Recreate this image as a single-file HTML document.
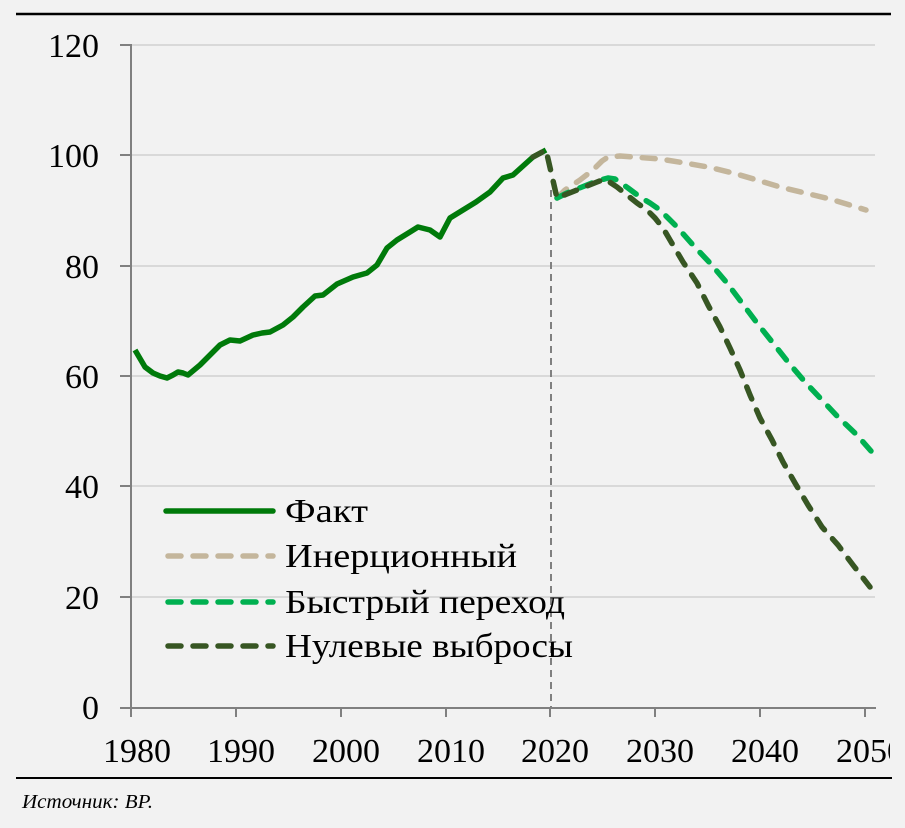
<!DOCTYPE html>
<html><head><meta charset="utf-8"><style>
html,body{margin:0;padding:0;background:#f2f2f2;}
svg{display:block;}
text{font-family:"Liberation Serif","DejaVu Serif",serif;fill:#000;}
</style></head><body>
<svg width="905" height="828" viewBox="0 0 905 828" xmlns="http://www.w3.org/2000/svg">
<rect width="905" height="828" fill="#f2f2f2"/>
<!-- rules -->
<line x1="16" y1="14" x2="891" y2="14" stroke="#000" stroke-width="2.5"/>
<line x1="16" y1="778" x2="892" y2="778" stroke="#000" stroke-width="2"/>
<!-- gridlines -->
<g stroke="#d9d9d9" stroke-width="2">
<line x1="131" y1="45" x2="875" y2="45"/>
<line x1="131" y1="155" x2="875" y2="155"/>
<line x1="131" y1="266" x2="875" y2="266"/>
<line x1="131" y1="376" x2="875" y2="376"/>
<line x1="131" y1="486" x2="875" y2="486"/>
<line x1="131" y1="597" x2="875" y2="597"/>
</g>
<!-- axes -->
<g stroke="#808080" stroke-width="2">
<line x1="131" y1="44" x2="131" y2="717"/>
<line x1="120" y1="708" x2="876" y2="708"/>
<line x1="120" y1="45" x2="131" y2="45"/>
<line x1="120" y1="155" x2="131" y2="155"/>
<line x1="120" y1="266" x2="131" y2="266"/>
<line x1="120" y1="376" x2="131" y2="376"/>
<line x1="120" y1="486" x2="131" y2="486"/>
<line x1="120" y1="597" x2="131" y2="597"/>
<line x1="236" y1="708" x2="236" y2="717"/>
<line x1="341" y1="708" x2="341" y2="717"/>
<line x1="446" y1="708" x2="446" y2="717"/>
<line x1="550" y1="708" x2="550" y2="717"/>
<line x1="655" y1="708" x2="655" y2="717"/>
<line x1="760" y1="708" x2="760" y2="717"/>
<line x1="865" y1="708" x2="865" y2="717"/>
</g>
<!-- vertical dashed 2020 -->
<line x1="551" y1="190" x2="551" y2="708" stroke="#808080" stroke-width="2" stroke-dasharray="7 5"/>
<!-- y labels -->
<g font-size="34" text-anchor="end">
<text x="99" y="57">120</text>
<text x="99" y="167">100</text>
<text x="99" y="278">80</text>
<text x="99" y="388">60</text>
<text x="99" y="498">40</text>
<text x="99" y="609">20</text>
<text x="99" y="719">0</text>
</g>
<!-- x labels -->
<svg x="0" y="0" width="890" height="828" overflow="hidden">
<g font-size="34" text-anchor="middle">
<text x="137" y="762">1980</text>
<text x="241" y="762">1990</text>
<text x="346" y="762">2000</text>
<text x="451" y="762">2010</text>
<text x="555" y="762">2020</text>
<text x="660" y="762">2030</text>
<text x="765" y="762">2040</text>
<text x="870" y="762">2050</text>
</g>
</svg>
<!-- series -->
<g fill="none" stroke-linejoin="round">
<polyline stroke="#007a0a" stroke-width="5.5" stroke-linecap="butt" points="135,350 145,367 153,373 160,376 167,378 173,375 178,372 183,373 188,375 194,370 200,365 210,355 220,345 230,340 240,341 253,335 262,333 270,332 283,325 293,317 303,307 315,296 323,295 337,284 353,277 367,273 377,265 387,248 397,240 410,232 418,227 430,230 440,237 450,218 463,210 476,202 490,192 503,178 513,175 523,166 533,157 546,150"/>
<polyline stroke="#c4b69c" stroke-width="5.5" stroke-linecap="round" stroke-dasharray="13 12" points="557,198 565,190 580,180 593,170 602,161 608,157 620,156 633,157 660,159 685,163 708,167 733,173 757,180 780,187 805,193 830,199 853,206 866,210"/>
<polyline stroke="#00b050" stroke-width="5.5" stroke-linecap="round" stroke-dasharray="13 12" points="557,198 567,193 582,187 597,181 608,178 615,179 628,188 640,197 650,203 660,210 668,218 677,227 693,245 710,263 727,283 742,303 757,323 773,343 788,362 805,382 822,400 838,417 857,435 871,451"/>
<polyline stroke="#375623" stroke-width="5.5" stroke-linecap="round" stroke-dasharray="13 12" stroke-dashoffset="3" points="533,157 546,150 557,198 567,194 582,188 597,182 605,179 617,187 627,195 637,203 647,210 655,218 663,228 670,240 683,262 697,283 708,305 720,327 730,348 740,370 750,395 760,418 772,440 783,462 795,483 808,505 822,527 838,545 853,565 870,587"/>
</g>
<!-- legend -->
<g fill="none" stroke-width="5.5">
<line x1="166" y1="511" x2="273" y2="511" stroke="#007a0a" stroke-linecap="round"/>
<line x1="168" y1="556" x2="273" y2="556" stroke="#c4b69c" stroke-linecap="round" stroke-dasharray="13 12"/>
<line x1="168" y1="602" x2="273" y2="602" stroke="#00b050" stroke-linecap="round" stroke-dasharray="13 12"/>
<line x1="168" y1="646" x2="273" y2="646" stroke="#375623" stroke-linecap="round" stroke-dasharray="13 12"/>
</g>
<g font-size="34">
<text x="285" y="522" textLength="83" lengthAdjust="spacingAndGlyphs">Факт</text>
<text x="285" y="567" textLength="232" lengthAdjust="spacingAndGlyphs">Инерционный</text>
<text x="285" y="613" textLength="280" lengthAdjust="spacingAndGlyphs">Быстрый переход</text>
<text x="285" y="657" textLength="288" lengthAdjust="spacingAndGlyphs">Нулевые выбросы</text>
</g>
<!-- source -->
<text x="22" y="808" font-size="20" font-style="italic" textLength="131" lengthAdjust="spacingAndGlyphs">Источник: BP.</text>
</svg>
</body></html>
